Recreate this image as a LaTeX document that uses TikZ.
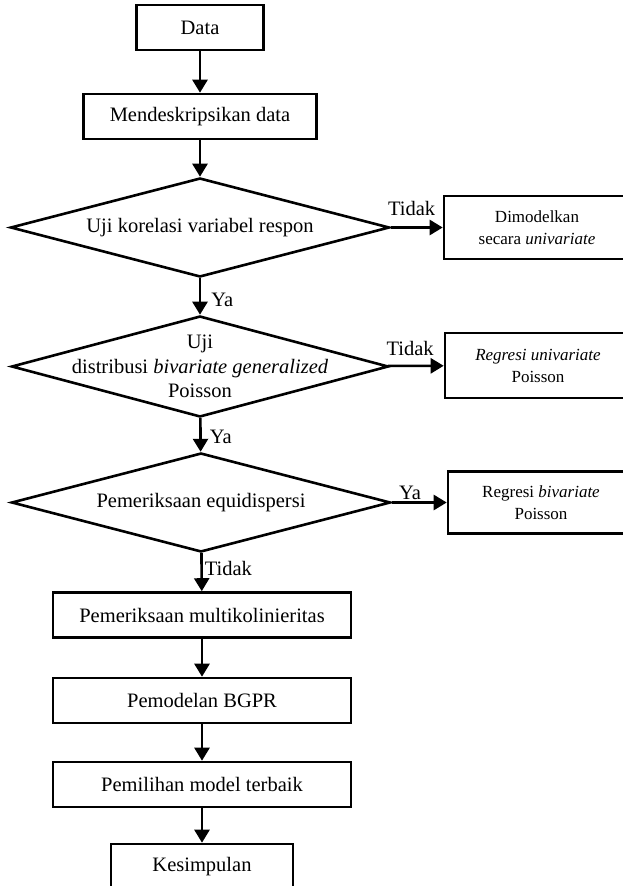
\documentclass[tikz,border=0pt]{standalone}
\usepackage{fontspec}
\setmainfont{Liberation Serif}
\usetikzlibrary{shapes.geometric,arrows.meta}

\begin{document}
\begin{tikzpicture}[auto, x=1pt, y=-1pt, line width=2.6pt,
    box/.style={draw, inner sep=0pt, minimum height=45pt, font=\fontsize{20.5}{24.5}\selectfont},
    sidebox/.style={draw, inner sep=0pt, minimum width=186pt, align=center, font=\fontsize{17}{22}\selectfont},
    decision/.style={draw, diamond, inner sep=0pt, aspect=3.83, minimum width=379pt, minimum height=99pt, font=\fontsize{20.5}{24.5}\selectfont},
    arr/.style={-{Triangle[length=13pt,width=15pt]}},
    lbl/.style={font=\fontsize{20.5}{24.5}\selectfont, inner sep=2pt}]
    \useasboundingbox (0,0) rectangle (623,886);
    \node[box, minimum width=127pt] (data) at (200, 27.5) {Data};
    \node[box, minimum width=233pt] (desk) at (200, 116.5) {Mendeskripsikan data};
    \node[decision] (uji1) at (200, 227.5) {Uji korelasi variabel respon};
    \node[sidebox, minimum height=63pt] (uni) at (537, 227.5) {Dimodelkan\\secara \textit{univariate}};
    \node[decision, minimum width=377pt, minimum height=101pt] (uji2) at (200, 366.5) {};
    \node[align=center, font=\fontsize{20.5}{24.5}\selectfont] (uji2t) at (uji2) {Uji\\distribusi \textit{bivariate generalized}\\Poisson};
    \node[sidebox, minimum height=65pt] (regu) at (538, 365.5) {\textit{Regresi univariate}\\Poisson};
    \node[decision] (equi) at (201, 502.5) {Pemeriksaan equidispersi};
    \node[sidebox, minimum height=62pt] (regb) at (541, 502.5) {Regresi \textit{bivariate}\\Poisson};
    \node[box, minimum width=298pt] (multi) at (202, 615) {Pemeriksaan multikolinieritas};
    \node[box, minimum width=298pt] (bgpr) at (202, 700.5) {Pemodelan BGPR};
    \node[box, minimum width=298pt] (pilih) at (202, 784.5) {Pemilihan model terbaik};
    \node[box, minimum width=182pt] (kes) at (202, 866.5) {Kesimpulan};
    \draw [arr] (data) to (desk);
    \draw [arr] (desk) to (uji1);
    \draw [arr] (uji1) to node[lbl, pos=0.4, yshift=9pt] {Tidak} (uni);
    \draw [arr] (uji1) to node[lbl, pos=0.6, xshift=8pt] {Ya} (uji2);
    \draw [arr] (uji2) to node[lbl, pos=0.4, yshift=7pt] {Tidak} (regu);
    \draw [arr] (uji2) to node[lbl, pos=0.55, xshift=6pt] {Ya} (equi);
    \draw [arr] (equi) to node[lbl, pos=0.33] {Ya} (regb);
    \draw [arr] (equi) to node[lbl, pos=0.4] {Tidak} (multi);
    \draw [arr] (multi) to (bgpr);
    \draw [arr] (bgpr) to (pilih);
    \draw [arr] (pilih) to (kes);
\end{tikzpicture}
\end{document}
